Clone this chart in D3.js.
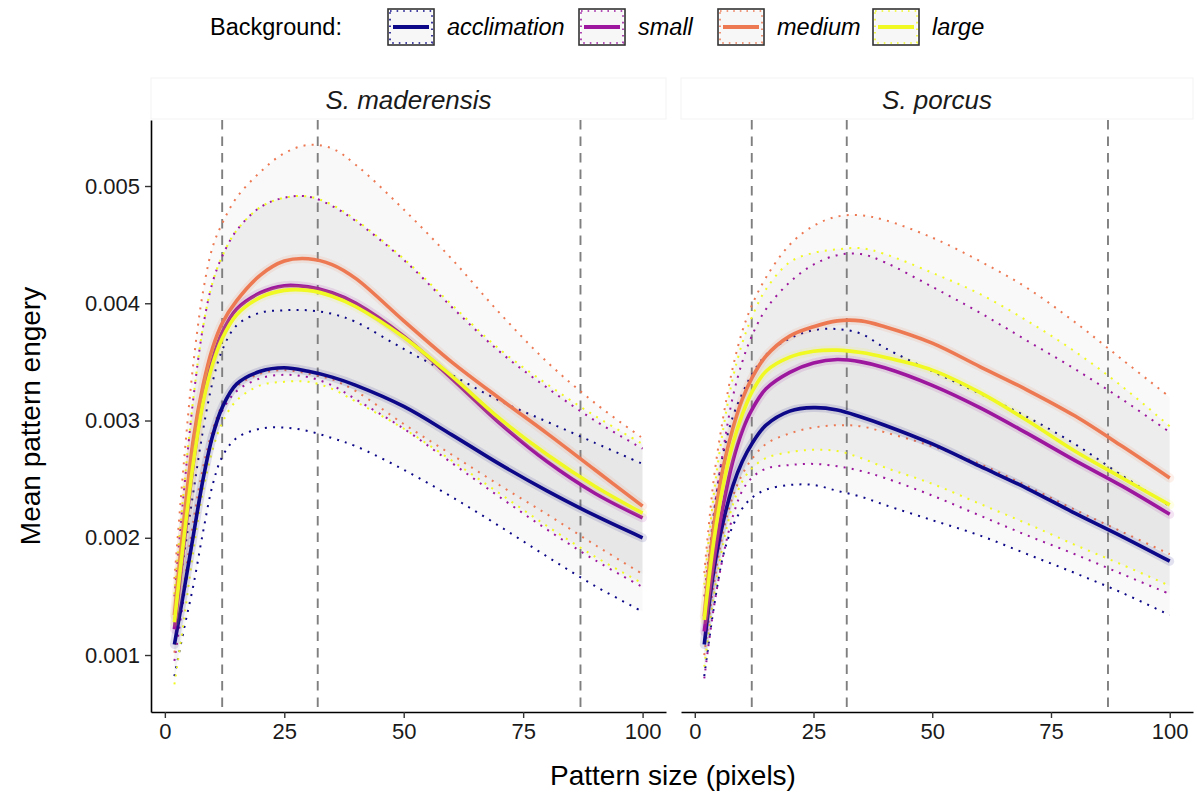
<!DOCTYPE html>
<html><head><meta charset="utf-8">
<script src="https://cdn.jsdelivr.net/npm/d3@7"></script>
<style>
html,body{margin:0;padding:0;background:#fff;}
svg text{font-family:"Liberation Sans",Arial,Helvetica,sans-serif;}
</style></head>
<body><svg id="c" width="1198" height="794"></svg>
<script>
// ---------- data ----------
const patternSize = [2,4,6,8,10,12,15,20,25,30,35,40,50,60,70,80,90,100];
const species = ["S. maderensis","S. porcus"];
const backgrounds = ["acclimation","small","medium","large"];
const bgColors = ["#0D0887","#9C179E","#ED7953","#F0F921"];
const vlinePositions = [12,32,87];
const xTicks = [0,25,50,75,100];
const yTicks = [0.001,0.002,0.003,0.004,0.005];

// S. maderensis
const madAcclMean = [0.00109,0.00155,0.00203,0.00250,0.00287,0.00311,0.00331,0.00342,0.00345,0.00342,0.00337,0.00330,0.00312,0.00288,0.00263,0.00240,0.00219,0.00200];
const madAcclLow  = [0.00082,0.00122,0.00160,0.00205,0.00245,0.00269,0.00285,0.00293,0.00294,0.00291,0.00285,0.00278,0.00258,0.00235,0.00210,0.00184,0.00159,0.00137];
const madAcclUp   = [0.00135,0.00185,0.00240,0.00292,0.00333,0.00360,0.00381,0.00392,0.00394,0.00394,0.00391,0.00384,0.00361,0.00339,0.00317,0.00299,0.00281,0.00263];
const madSmallMean = [0.00122,0.00195,0.00265,0.00318,0.00352,0.00375,0.00395,0.00409,0.00415,0.00414,0.00409,0.00400,0.00372,0.00336,0.00298,0.00265,0.00238,0.00217];
const madSmallLow  = [0.00095,0.00150,0.00205,0.00252,0.00285,0.00308,0.00325,0.00336,0.00339,0.00337,0.00330,0.00318,0.00293,0.00264,0.00235,0.00207,0.00181,0.00158];
const madSmallUp   = [0.00150,0.00240,0.00320,0.00380,0.00418,0.00440,0.00462,0.00482,0.00490,0.00491,0.00483,0.00470,0.00437,0.00397,0.00359,0.00328,0.00300,0.00276];
const madMedMean = [0.00134,0.00215,0.00285,0.00330,0.00362,0.00383,0.00402,0.00424,0.00436,0.00438,0.00433,0.00421,0.00385,0.00350,0.00319,0.00289,0.00258,0.00227];
const madMedLow  = [0.00102,0.00160,0.00215,0.00260,0.00292,0.00313,0.00329,0.00340,0.00343,0.00340,0.00335,0.00325,0.00297,0.00271,0.00245,0.00220,0.00194,0.00169];
const madMedUp   = [0.00165,0.00265,0.00350,0.00410,0.00448,0.00468,0.00490,0.00512,0.00528,0.00535,0.00532,0.00518,0.00480,0.00438,0.00392,0.00350,0.00315,0.00285];
const madLargeMean = [0.00128,0.00200,0.00265,0.00315,0.00348,0.00370,0.00390,0.00405,0.00411,0.00411,0.00406,0.00397,0.00371,0.00338,0.00302,0.00271,0.00244,0.00221];
const madLargeLow  = [0.00075,0.00130,0.00190,0.00240,0.00275,0.00298,0.00317,0.00330,0.00333,0.00333,0.00327,0.00316,0.00293,0.00266,0.00238,0.00210,0.00184,0.00161];
const madLargeUp   = [0.00152,0.00242,0.00320,0.00380,0.00418,0.00440,0.00462,0.00482,0.00490,0.00491,0.00484,0.00471,0.00438,0.00399,0.00361,0.00331,0.00304,0.00280];

// S. porcus
const porAcclMean = [0.00109,0.00172,0.00214,0.00244,0.00265,0.00280,0.00296,0.00308,0.00311,0.00309,0.00303,0.00296,0.00280,0.00261,0.00242,0.00221,0.00201,0.00180];
const porAcclLow  = [0.00082,0.00140,0.00185,0.00210,0.00225,0.00234,0.00241,0.00245,0.00245,0.00240,0.00235,0.00228,0.00215,0.00202,0.00186,0.00170,0.00153,0.00134];
const porAcclUp   = [0.00135,0.00220,0.00272,0.00303,0.00323,0.00339,0.00356,0.00370,0.00377,0.00378,0.00374,0.00362,0.00342,0.00323,0.00303,0.00280,0.00253,0.00227];
const porSmallMean = [0.00120,0.00180,0.00228,0.00265,0.00291,0.00309,0.00327,0.00341,0.00349,0.00352,0.00350,0.00345,0.00330,0.00311,0.00289,0.00266,0.00244,0.00220];
const porSmallLow  = [0.00080,0.00140,0.00185,0.00218,0.00240,0.00251,0.00259,0.00262,0.00263,0.00261,0.00257,0.00251,0.00236,0.00219,0.00202,0.00186,0.00169,0.00152];
const porSmallUp   = [0.00150,0.00220,0.00275,0.00320,0.00350,0.00372,0.00395,0.00418,0.00433,0.00441,0.00442,0.00435,0.00414,0.00392,0.00368,0.00344,0.00318,0.00290];
const porMedMean = [0.00133,0.00210,0.00260,0.00293,0.00318,0.00336,0.00355,0.00372,0.00380,0.00385,0.00385,0.00380,0.00366,0.00346,0.00326,0.00304,0.00278,0.00251];
const porMedLow  = [0.00100,0.00160,0.00205,0.00235,0.00254,0.00267,0.00280,0.00289,0.00294,0.00296,0.00295,0.00290,0.00278,0.00263,0.00244,0.00224,0.00205,0.00186];
const porMedUp   = [0.00170,0.00250,0.00303,0.00345,0.00376,0.00398,0.00422,0.00450,0.00466,0.00474,0.00475,0.00471,0.00456,0.00436,0.00413,0.00384,0.00352,0.00320];
const porLargeMean = [0.00130,0.00197,0.00245,0.00280,0.00305,0.00324,0.00342,0.00354,0.00359,0.00360,0.00358,0.00354,0.00343,0.00324,0.00300,0.00274,0.00251,0.00228];
const porLargeLow  = [0.00090,0.00150,0.00195,0.00228,0.00248,0.00259,0.00268,0.00273,0.00275,0.00274,0.00268,0.00260,0.00246,0.00229,0.00212,0.00194,0.00177,0.00159];
const porLargeUp   = [0.00160,0.00237,0.00293,0.00336,0.00366,0.00388,0.00412,0.00435,0.00443,0.00446,0.00447,0.00442,0.00426,0.00408,0.00385,0.00359,0.00329,0.00295];

const panelSeries = [
  [ [madAcclMean,madAcclLow,madAcclUp],[madSmallMean,madSmallLow,madSmallUp],[madMedMean,madMedLow,madMedUp],[madLargeMean,madLargeLow,madLargeUp] ],
  [ [porAcclMean,porAcclLow,porAcclUp],[porSmallMean,porSmallLow,porSmallUp],[porMedMean,porMedLow,porMedUp],[porLargeMean,porLargeLow,porLargeUp] ]
];

// ---------- layout ----------
const svg = d3.select("#c");
const FONT = '"Liberation Sans",Arial,Helvetica,sans-serif';
const panelTop = 120, panelBottom = 712;
const panelX = [[151,666],[681,1193]];
const y = d3.scaleLinear().domain([0.000514,0.005563]).range([panelBottom,panelTop]);
const CURVE = d3.curveCatmullRom.alpha(0.5);

species.forEach((sp, p) => {
  const x = d3.scaleLinear().domain([-2.9,104.9]).range(panelX[p]);
  const g = svg.append("g");

  // strip
  g.append("rect").attr("x",panelX[p][0]).attr("y",78).attr("width",panelX[p][1]-panelX[p][0]).attr("height",41)
    .attr("fill","#fff").attr("stroke","#f3f3f3").attr("stroke-width",1);
  g.append("text").attr("x",(panelX[p][0]+panelX[p][1])/2).attr("y",100).attr("dy","0.35em")
    .attr("text-anchor","middle").attr("font-size",26).attr("font-style","italic").attr("fill","#1a1a1a").text(sp);

  const series = panelSeries[p];
  // ribbons
  series.forEach((s) => {
    const area = d3.area().x((d,i)=>x(patternSize[i])).y0((d,i)=>y(s[1][i])).y1((d,i)=>y(s[2][i])).curve(CURVE);
    g.append("path").attr("d",area(patternSize)).attr("fill","#000").attr("fill-opacity",0.022);
  });
  // vertical dashed lines
  g.selectAll(".vl").data(vlinePositions).enter().append("line")
    .attr("x1",d=>x(d)).attr("x2",d=>x(d)).attr("y1",panelTop).attr("y2",panelBottom)
    .attr("stroke","#7f7f7f").attr("stroke-width",1.9).attr("stroke-dasharray","9.5,7");
  // dotted bounds
  series.forEach((s,k) => {
    [1,2].forEach(j => {
      const line = d3.line().x((d,i)=>x(patternSize[i])).y((d,i)=>y(s[j][i])).curve(CURVE);
      g.append("path").attr("d",line(patternSize)).attr("fill","none").attr("stroke",bgColors[k])
        .attr("stroke-width",2).attr("stroke-dasharray","2,6.2");
    });
  });
  // mean lines
  series.forEach((s,k) => {
    const line = d3.line().x((d,i)=>x(patternSize[i])).y((d,i)=>y(s[0][i])).curve(CURVE);
    g.append("path").attr("d",line(patternSize)).attr("fill","none").attr("stroke",bgColors[k])
      .attr("stroke-width",9).attr("stroke-opacity",0.12).attr("stroke-linecap","round");
    g.append("path").attr("d",line(patternSize)).attr("fill","none").attr("stroke",bgColors[k])
      .attr("stroke-width",3.6);
  });

  // x axis
  const xa = g.append("g").attr("transform",`translate(0,${panelBottom})`)
    .call(d3.axisBottom(x).tickValues(xTicks).tickSize(6).tickPadding(5).tickSizeOuter(0));
  xa.select(".domain").attr("stroke","#000").attr("stroke-width",1.6);
  xa.selectAll(".tick line").attr("stroke","#333").attr("stroke-width",1.4);
  xa.selectAll("text").attr("font-size",22).attr("fill","#1a1a1a").attr("font-family",FONT);

  if (p === 0) {
    const ya = g.append("g").attr("transform",`translate(${panelX[0][0]},0)`)
      .call(d3.axisLeft(y).tickValues(yTicks).tickFormat(d3.format(".3f")).tickSize(6).tickPadding(5).tickSizeOuter(0));
    ya.select(".domain").attr("stroke","#000").attr("stroke-width",1.6);
    ya.selectAll(".tick line").attr("stroke","#333").attr("stroke-width",1.4);
    ya.selectAll("text").attr("font-size",22).attr("fill","#1a1a1a").attr("font-family",FONT);
  }
});

// axis titles
svg.append("text").attr("x",673).attr("y",775).attr("dy","0.35em").attr("text-anchor","middle")
  .attr("font-size",28).attr("fill","#000").text("Pattern size (pixels)");
svg.append("text").attr("transform","translate(30,416) rotate(-90)").attr("dy","0.35em").attr("text-anchor","middle")
  .attr("font-size",28).attr("fill","#000").text("Mean pattern engery");

// legend
const lg = svg.append("g");
lg.append("text").attr("x",210).attr("y",27).attr("dy","0.35em").attr("font-size",23.5).attr("fill","#000").text("Background:");
const keyX = [388,579,718,873];
backgrounds.forEach((b,k) => {
  const kx = keyX[k], ky = 9, kw = 46, kh = 36;
  lg.append("rect").attr("x",kx).attr("y",ky).attr("width",kw).attr("height",kh).attr("fill","#fff").attr("stroke","#333").attr("stroke-width",1.6);
  lg.append("rect").attr("x",kx+2).attr("y",ky+2).attr("width",kw-4).attr("height",kh-4).attr("fill","#f7f7f7")
    .attr("stroke",bgColors[k]).attr("stroke-width",1.6).attr("stroke-dasharray","1.6,5");
  lg.append("line").attr("x1",kx+5).attr("x2",kx+kw-5).attr("y1",ky+kh/2).attr("y2",ky+kh/2).attr("stroke",bgColors[k]).attr("stroke-width",4);
  lg.append("text").attr("x",kx+kw+13).attr("y",27).attr("dy","0.35em").attr("font-size",23.5).attr("font-style","italic").attr("fill","#000").text(b);
});
</script></body></html>
